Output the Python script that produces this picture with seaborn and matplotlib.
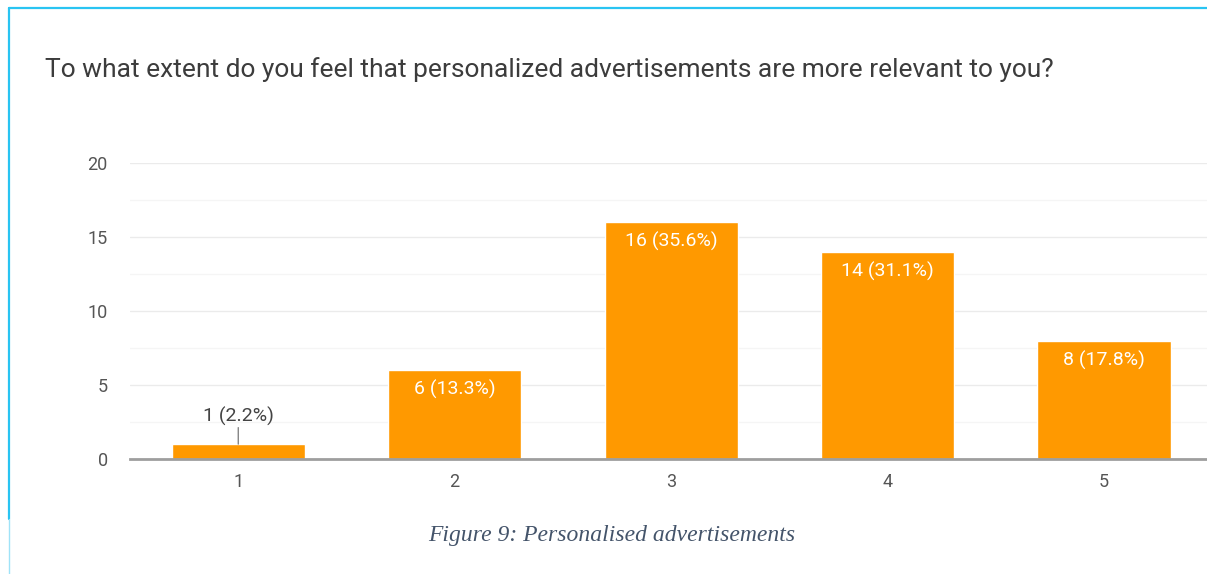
import matplotlib
matplotlib.use("Agg")
import matplotlib.pyplot as plt
import seaborn as sns
import pandas as pd
from matplotlib.lines import Line2D
from matplotlib.ticker import MultipleLocator

# Survey responses: rating scale 1-5, number of respondents per rating
ratings = ["1", "2", "3", "4", "5"]
counts = [1, 6, 16, 14, 8]
percents = [2.2, 13.3, 35.6, 31.1, 17.8]
y_ticks = [0, 5, 10, 15, 20]

title = "To what extent do you feel that personalized advertisements are more relevant to you?"
caption = "Figure 9: Personalised advertisements"

df = pd.DataFrame({"rating": ratings, "count": counts, "pct": percents})

sns.set_theme(style="white")
plt.rcParams["font.family"] = ["Roboto", "DejaVu Sans"]

W, H = 1207, 574
fig = plt.figure(figsize=(W / 100, H / 100), dpi=100)
fig.patch.set_facecolor("white")

ax = fig.add_axes([130 / W, 1 - 459 / H, 1 - 130 / W, (459 - 163) / H])
sns.barplot(data=df, x="rating", y="count", color="#FF9900", saturation=1,
            width=0.615, ax=ax, zorder=3)

ax.set_xlim(-0.5, 4.476)
ax.set_ylim(0, 20)
ax.yaxis.set_minor_locator(MultipleLocator(2.5))
ax.set_yticks(y_ticks)
ax.grid(axis="y", which="major", color="#ebebeb", linewidth=1.0, zorder=0)
ax.grid(axis="y", which="minor", color="#f5f5f5", linewidth=1.0, zorder=0)
ax.set_axisbelow(True)
for side in ["top", "right", "left"]:
    ax.spines[side].set_visible(False)
ax.spines["bottom"].set_color("#9e9e9e")
ax.spines["bottom"].set_linewidth(2.0)
ax.spines["bottom"].set_zorder(4)
ax.set_xlabel("")
ax.set_ylabel("")
ax.tick_params(axis="both", which="both", length=0, colors="#555555", labelsize=13)
ax.tick_params(axis="y", pad=16)
ax.tick_params(axis="x", pad=10)

# value labels: inside the bar near its top, or above it with a leader line
for i, (c, p) in enumerate(zip(counts, percents)):
    label = f"{c} ({p}%)"
    if c >= 3:
        ax.annotate(label, (i, c), xytext=(0, -14), textcoords="offset points",
                    ha="center", va="center", color="white", fontsize=14, zorder=5)
    else:
        ax.annotate(label, (i, c), xytext=(0, 20), textcoords="offset points",
                    ha="center", va="center", color="#444444", fontsize=14, zorder=5)
        ax.annotate("", (i, c), xytext=(0, 12), textcoords="offset points",
                    arrowprops=dict(arrowstyle="-", color="#666666", lw=0.8,
                                    shrinkA=0, shrinkB=0), zorder=5)

fig.text(45 / W, 1 - 70 / H, title, ha="left", va="center",
         fontsize=19, color="#3c3c3c")

fig.text(612 / W, 1 - 535 / H, caption, ha="center", va="center",
         fontsize=17, color="#44546A", style="italic",
         family=["Liberation Serif", "DejaVu Serif"])

# cyan frame around the chart panel
fig.add_artist(Line2D([9 / W, 1], [1 - 8 / H, 1 - 8 / H], color="#29c4f2",
                      linewidth=1.6, transform=fig.transFigure))
fig.add_artist(Line2D([9 / W, 9 / W], [1 - 8 / H, 1 - 519 / H], color="#29c4f2",
                      linewidth=1.6, transform=fig.transFigure))
fig.add_artist(Line2D([9 / W, 9 / W], [1 - 519 / H, 0], color="#9fe3f8",
                      linewidth=1.0, transform=fig.transFigure))

fig.savefig("out.png", dpi=100, facecolor="white")
